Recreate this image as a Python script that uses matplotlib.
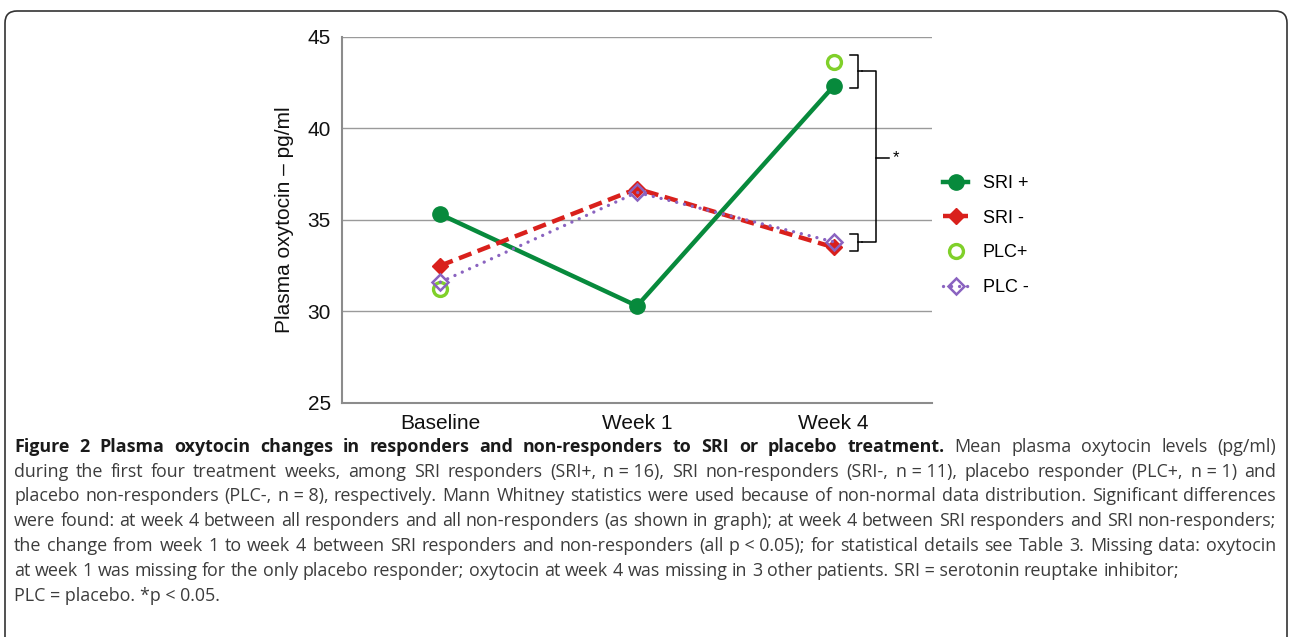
import numpy as np
import matplotlib
matplotlib.use('Agg')
import matplotlib.pyplot as plt
from matplotlib.patches import FancyBboxPatch
from matplotlib.transforms import IdentityTransform

# Данные
categories = ['Baseline', 'Week 1', 'Week 4']
sri_pos = [35.3, 30.3, 42.3]
sri_neg = [32.5, 36.7, 33.5]
plc_pos = [31.2, np.nan, 43.6]
plc_neg = [31.6, 36.5, 33.8]
y_ticks = [25, 30, 35, 40, 45]
labels = ['SRI +', 'SRI -', 'PLC+', 'PLC -']

# "~" = пробел внутри слова (не растягивается при выравнивании)
caption_bold = 'Figure 2 Plasma oxytocin changes in responders and non-responders to SRI or placebo treatment.'
caption_lines = [
    'Mean plasma oxytocin levels (pg/ml)',
    'during the first four treatment weeks, among SRI responders (SRI+, n~=~16), SRI non-responders (SRI-, n~=~11), placebo responder (PLC+, n~=~1) and',
    'placebo non-responders (PLC-, n~=~8), respectively. Mann Whitney statistics were used because of non-normal data distribution. Significant differences',
    'were found: at week 4 between all responders and all non-responders (as shown in graph); at week 4 between SRI responders and SRI non-responders;',
    'the change from week 1 to week 4 between SRI responders and non-responders (all p~<~0.05); for statistical details see Table 3. Missing data: oxytocin',
    'at week 1 was missing for the only placebo responder; oxytocin at week 4 was missing in 3 other patients. SRI~=~serotonin reuptake inhibitor;',
    'PLC~=~placebo. *p~<~0.05.',
]

W, H = 1292, 637
plt.rcParams['font.family'] = ['Liberation Sans', 'DejaVu Sans']
fig = plt.figure(figsize=(W / 100, H / 100), dpi=100)
ax = fig.add_axes([342 / W, 1 - 403 / H, 590 / W, (403 - 36.7) / H])

x = np.arange(len(categories))
ax.plot(x, sri_pos, color='#078a3c', lw=3.2, marker='o', ms=11, zorder=3, label=labels[0])
ax.plot(x, sri_neg, color='#d9201c', lw=3.2, ls=(0, (3, 1.5)), marker='D', ms=8.5, zorder=4, label=labels[1])
ax.plot(x, plc_pos, color='#80d02a', lw=0, marker='o', ms=10, mfc='none', mew=2.4, zorder=5, label=labels[2])
ax.plot(x, plc_neg, color='#8a63c0', lw=2.4, ls=(0, (0.01, 2.4)), dash_capstyle='round', marker='D', ms=8.5,
        mfc='none', mec='#8a63c0', mew=1.8, zorder=6, label=labels[3])

ax.set_xlim(-0.5, 2.5)
ax.set_ylim(25, 45)
ax.set_yticks(y_ticks)
ax.set_xticks(x)
ax.set_xticklabels(categories)
ax.tick_params(length=0, labelsize=15, pad=8, colors='#111111')
ax.yaxis.grid(True, color='#9a9a9a', lw=1)
ax.set_axisbelow(True)
for s in ['top', 'right']:
    ax.spines[s].set_visible(False)
for s in ['left', 'bottom']:
    ax.spines[s].set_color('#8c8c8c')
    ax.spines[s].set_linewidth(1.5)
ax.set_ylabel('Plasma oxytocin \u2013 pg/ml', fontsize=15, labelpad=10, color='#111111')

# скобки значимости на неделе 4
def brace(x0, y_top, y_bot, w=0.04, tip=0.02):
    y_mid = (y_top + y_bot) / 2
    ax.plot([x0, x0 + w, x0 + w, x0], [y_top, y_top, y_bot, y_bot], color='black', lw=1.1)
    ax.plot([x0 + w, x0 + w + tip], [y_mid, y_mid], color='black', lw=1.1)
    return y_mid

bx = 2.083
top_mid = brace(bx, plc_pos[2] + 0.4, sri_pos[2] - 0.1)
bot_mid = brace(bx, plc_neg[2] + 0.45, sri_neg[2] - 0.2)
big_x = 2.215
ax.plot([bx + 0.06, big_x, big_x, bx + 0.06], [top_mid, top_mid, bot_mid, bot_mid], color='black', lw=1.1)
star_y = (top_mid + bot_mid) / 2 - 0.05
ax.plot([big_x, big_x + 0.066], [star_y, star_y], color='black', lw=1.1)
ax.text(big_x + 0.085, star_y, '*', fontsize=12, va='center', ha='left')

fig.legend(loc='upper left', bbox_to_anchor=(943 / W, 1 - 175 / H), frameon=False, fontsize=13,
           handlelength=1.4, handletextpad=0.8, labelspacing=0.98, borderpad=0, borderaxespad=0)

# рамка вокруг рисунка
frame = FancyBboxPatch((5, -30), 1282, H - 11 + 30, boxstyle='round,pad=0,rounding_size=12',
                       transform=IdentityTransform(), fill=False, ec='#333333', lw=1.2)
fig.patches.append(frame)

# подпись, выровненная по ширине
cap_font = 'Open Sans'
renderer = fig.canvas.get_renderer()
X0, X1 = 14, 1276


def text_w(s, size, weight='normal'):
    t = fig.text(0, 0, s, fontsize=size, fontweight=weight, family=cap_font)
    w = t.get_window_extent(renderer).width
    t.remove()
    return w


nat = [text_w(caption_bold + ' ', 12, 'bold') + text_w(caption_lines[0].replace('~', ' '), 12)]
nat += [text_w(s.replace('~', ' '), 12) for s in caption_lines[1:5]]
fs = 12 * (X1 - X0 - 10) / max(nat)


def draw_line(yb, pieces, justify):
    words = []
    for txt, wt, col in pieces:
        for wd in txt.split(' '):
            words.append((wd.replace('~', ' '), wt, col))
    arts = [fig.text(0, 1 - yb / H, wd, fontsize=fs, fontweight=wt, color=col, family=cap_font, va='baseline')
            for wd, wt, col in words]
    widths = [a.get_window_extent(renderer).width for a in arts]
    space = text_w('a a', fs) - text_w('aa', fs)
    gap = (X1 - X0 - sum(widths)) / (len(words) - 1) if justify else space
    xx = X0
    for a, wd in zip(arts, widths):
        a.set_x(xx / W)
        xx += wd + gap


line_y = [452, 477, 501, 526, 551, 576, 601]
txt_col = '#3c3c3c'
draw_line(line_y[0], [(caption_bold, 'bold', '#1a1a1a'), (caption_lines[0], 'normal', txt_col)], True)
for i in range(1, len(caption_lines)):
    draw_line(line_y[i], [(caption_lines[i], 'normal', txt_col)], i < 5)

fig.savefig('out.png', dpi=100)
